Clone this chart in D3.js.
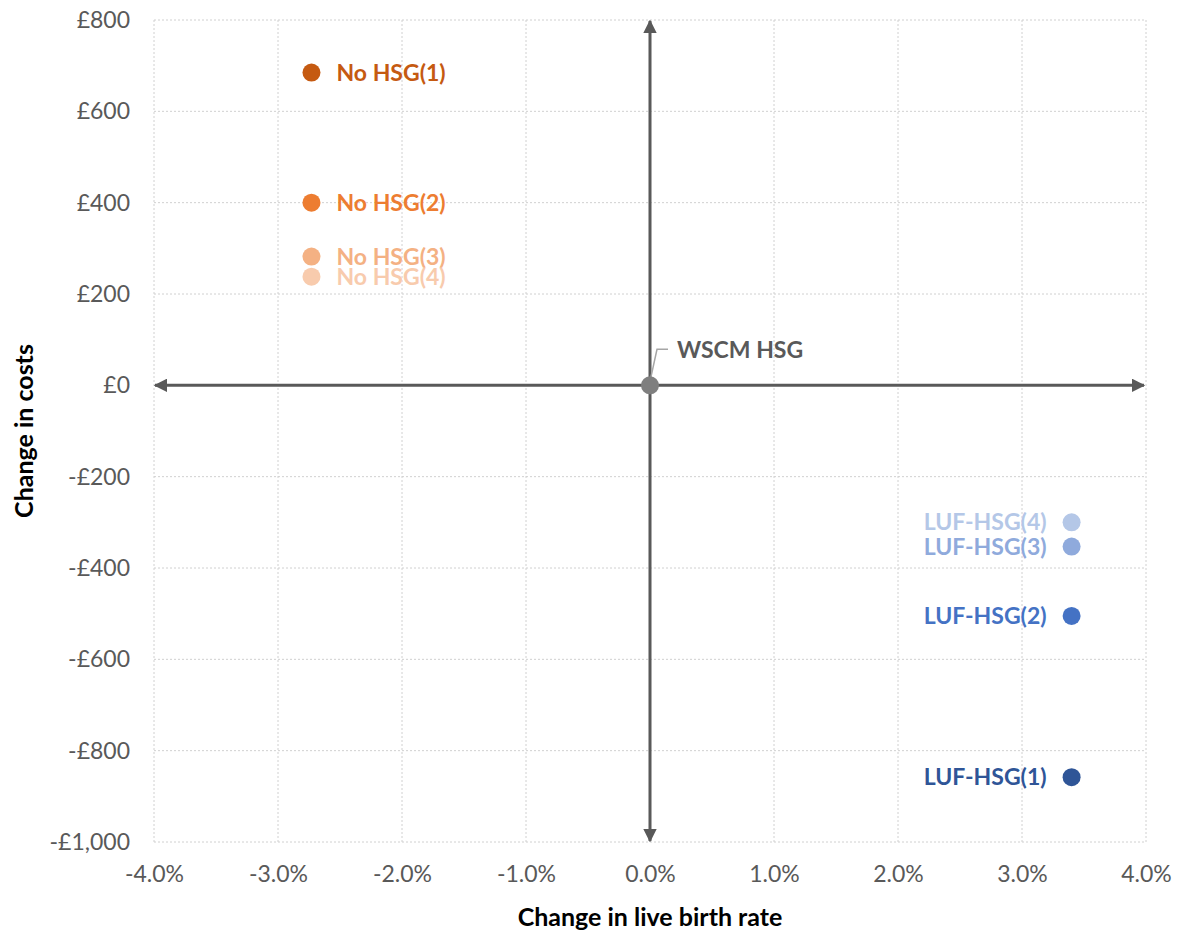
<!DOCTYPE html>
<html><head><meta charset="utf-8">
<script src="https://cdn.jsdelivr.net/npm/d3@7"></script>
<style>body{margin:0;background:#fff;} text{font-family:Lato, "Open Sans", sans-serif;}</style>
</head><body>
<svg id="c" width="1180" height="934"></svg>
<script>
const labels = ["No HSG(1)","No HSG(2)","No HSG(3)","No HSG(4)","LUF-HSG(1)","LUF-HSG(2)","LUF-HSG(3)","LUF-HSG(4)","WSCM HSG"];
const birthRate = [-0.0273,-0.0273,-0.0273,-0.0273,0.034,0.034,0.034,0.034,0];
const costs = [685,400,282,238,-858,-505,-353,-300,0];
const colors = ["#C55A11","#ED7D31","#F4B183","#F8CBAD","#2F5597","#4472C4","#8FAADC","#B4C7E7","#7F7F7F"];
const xTicks = [-0.04,-0.03,-0.02,-0.01,0,0.01,0.02,0.03,0.04];
const yTicks = [800,600,400,200,0,-200,-400,-600,-800,-1000];

const svg = d3.select("#c");
const L=154, R=1146, T=20, B=842;
const x = d3.scaleLinear().domain([-0.04,0.04]).range([L,R]);
const y = d3.scaleLinear().domain([-1000,800]).range([B,T]);

// grid
svg.append("g").selectAll("line").data(xTicks).join("line")
  .attr("x1",d=>x(d)).attr("x2",d=>x(d)).attr("y1",T).attr("y2",B)
  .attr("stroke","#D0D0D0").attr("stroke-width",1).attr("stroke-dasharray","2,2");
svg.append("g").selectAll("line").data(yTicks).join("line")
  .attr("y1",d=>y(d)).attr("y2",d=>y(d)).attr("x1",L).attr("x2",R)
  .attr("stroke","#D0D0D0").attr("stroke-width",1).attr("stroke-dasharray","2,2");

// tick labels via axes
const fmtY = d => (d<0?"-":"") + "£" + d3.format(",")(Math.abs(d));
const fmtX = d => (d<0?"-":"") + (Math.abs(d)*100).toFixed(1) + "%";
const ya = svg.append("g").attr("transform",`translate(${L},0)`)
  .call(d3.axisLeft(y).tickValues(yTicks).tickFormat(fmtY).tickSize(0).tickPadding(24));
ya.select(".domain").remove();
ya.selectAll("text").attr("font-size",23).attr("fill","#595959").style("font-family","Lato, sans-serif");
const xa = svg.append("g").attr("transform",`translate(0,${B})`)
  .call(d3.axisBottom(x).tickValues(xTicks).tickFormat(fmtX).tickSize(0).tickPadding(24));
xa.select(".domain").remove();
xa.selectAll("text").attr("font-size",23).attr("fill","#595959").style("font-family","Lato, sans-serif");

// arrow axes
const defs = svg.append("defs");
defs.append("marker").attr("id","arr").attr("viewBox","0 0 10 10").attr("refX",9).attr("refY",5)
  .attr("markerWidth",4.5).attr("markerHeight",4.5).attr("orient","auto-start-reverse").attr("markerUnits","strokeWidth")
  .append("path").attr("d","M0,0L10,5L0,10Z").attr("fill","#595959");
svg.append("line").attr("x1",L+1).attr("x2",R-2).attr("y1",y(0)).attr("y2",y(0))
  .attr("stroke","#595959").attr("stroke-width",3).attr("marker-start","url(#arr)").attr("marker-end","url(#arr)");
svg.append("line").attr("x1",x(0)).attr("x2",x(0)).attr("y1",T+1).attr("y2",B-1)
  .attr("stroke","#595959").attr("stroke-width",3).attr("marker-start","url(#arr)").attr("marker-end","url(#arr)");

// leader line for WSCM
const ox=x(0), oy=y(0);
svg.append("path").attr("d",`M${ox},${oy-4}L${ox+7},${oy-36}L${ox+18},${oy-36}`)
  .attr("fill","none").attr("stroke","#A6A6A6").attr("stroke-width",1.5);

// points
const data = labels.map((l,i)=>({l, xv:birthRate[i], yv:costs[i], c:colors[i]}));
svg.append("g").selectAll("circle").data(data).join("circle")
  .attr("cx",d=>x(d.xv)).attr("cy",d=>y(d.yv)).attr("r",9).attr("fill",d=>d.c);

// labels
svg.append("g").selectAll("text").data(data).join("text")
  .attr("x",d=> d.l==="WSCM HSG" ? x(d.xv)+27 : (d.xv<0 ? x(d.xv)+25 : x(d.xv)-25))
  .attr("y",d=> d.l==="WSCM HSG" ? y(d.yv)-35 : y(d.yv))
  .attr("dy","0.35em")
  .attr("text-anchor",d=> d.xv>0 ? "end":"start")
  .attr("font-size",23).attr("font-weight","bold")
  .attr("fill",d=> d.l==="WSCM HSG" ? "#595959" : d.c)
  .text(d=>d.l);

// axis titles
svg.append("text").attr("x",x(0)).attr("y",926).attr("text-anchor","middle")
  .attr("font-size",25).attr("font-weight","bold").attr("fill","#000").text("Change in live birth rate");
svg.append("text").attr("transform",`translate(33,${(T+B)/2}) rotate(-90)`).attr("text-anchor","middle")
  .attr("font-size",25).attr("font-weight","bold").attr("fill","#000").text("Change in costs");
</script>
</body></html>
